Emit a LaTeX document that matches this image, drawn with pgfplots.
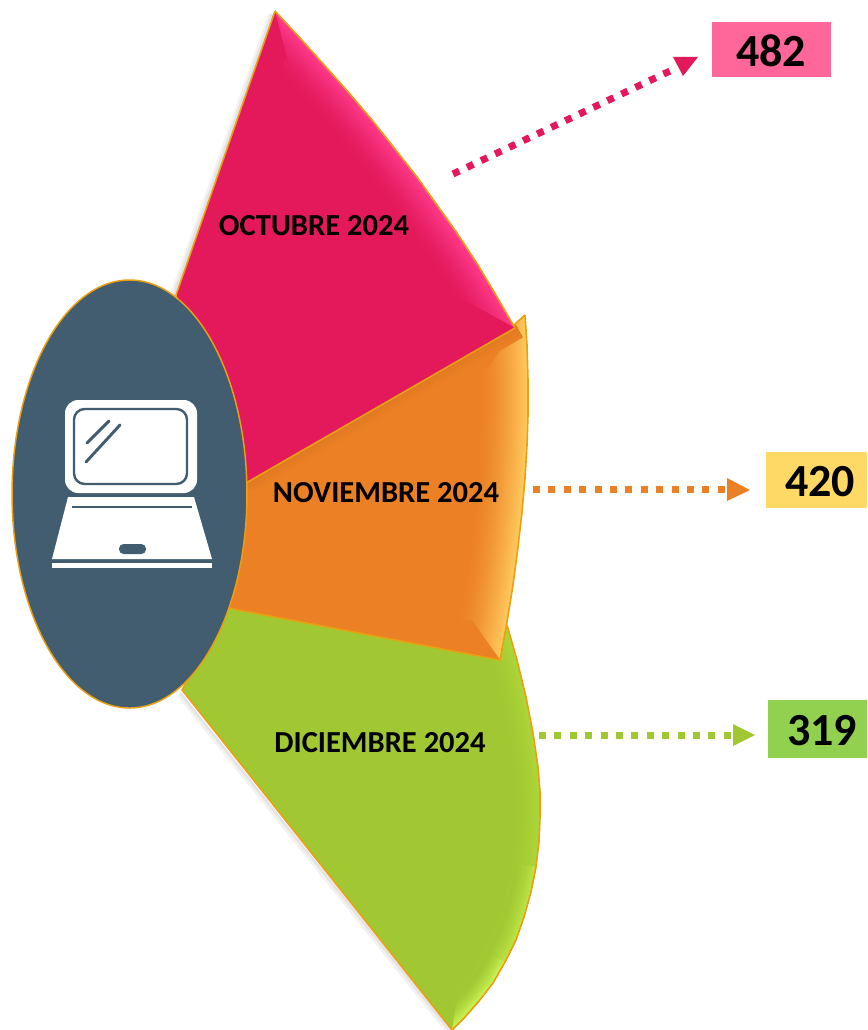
\documentclass[border=0pt]{standalone}
\usepackage{fontspec}
\setmainfont{Carlito}
\usepackage{pgfplots}
\usepackage{pgfplotstable}
\pgfplotsset{compat=1.18}
\definecolor{pinkbase}{HTML}{E3195B}
\definecolor{pinklight}{HTML}{FF3A8C}
\definecolor{orangebase}{HTML}{EC8024}
\definecolor{orangelight}{HTML}{FFC95C}
\definecolor{greenbase}{HTML}{A1C832}
\definecolor{greenlight}{HTML}{ADD638}
\definecolor{greenmid}{HTML}{BCE646}
\definecolor{greentip}{HTML}{CBF455}
\definecolor{edgeline}{HTML}{EBA012}
\definecolor{slate}{HTML}{435D70}
\definecolor{boxpink}{HTML}{FF6699}
\definecolor{boxyellow}{HTML}{FFD966}
\definecolor{boxgreen}{HTML}{92D050}

% wedge outlines, in pixels of the reference
\pgfplotstableread{
x y
275 11
300 38
325 66
350 94
372 120
395 149
417 177
437 205
457 233
478 265
497 297
515 328
246 483
200 400
176 295
275 11
}\pinkdata
\pgfplotstableread{
x y
525 315
527 345
528 380
528 415
527 445
525 478
522 512
518 547
513 585
507 622
500 660
228 608
200 550
246 483
514 325
525 315
}\orangedata
\pgfplotstableread{
x y
507 625
517 660
526 697
533 733
538 767
540 792
540 817
539 842
536 867
531 892
524 917
516 940
505 962
493 983
479 1001
465 1017
452 1030
182 690
228 608
507 625
}\greendata

\def\pinkarc{(275,11)--(300,38)--(325,66)--(350,94)--(372,120)--(395,149)--(417,177)--(437,205)--(457,233)--(478,265)--(497,297)--(515,328)}
\def\orangearc{(525,315)--(527,345)--(528,380)--(528,415)--(527,445)--(525,478)--(522,512)--(518,547)--(513,585)--(507,622)--(500,660)}
\def\greenarc{(507,625)--(517,660)--(526,697)--(533,733)--(538,767)--(540,792)--(540,817)--(539,842)--(536,867)--(531,892)--(524,917)--(516,940)--(505,962)--(493,983)--(479,1001)--(465,1017)--(452,1030)}
\def\greenlowarc{(536,867)--(531,892)--(524,917)--(516,940)--(505,962)--(493,983)--(479,1001)--(465,1017)--(452,1030)}
\def\greentiparc{(505,962)--(493,983)--(479,1001)--(465,1017)--(452,1030)}

% soft band along an outer arc: wide to narrow strokes, light colour at the rim
\newcommand{\bevel}[4]{%
  \foreach \s in {1,...,30}{%
    \pgfmathsetmacro{\p}{100*(\s/30)^1.5}%
    \pgfmathsetlengthmacro{\w}{2*#4*(1-(\s-1)/30)}%
    \draw[line width=\w, color=#3!\p!#2, line join=round] #1;
  }%
}

\begin{document}
\begin{tikzpicture}
\begin{axis}[
    scale only axis,
    width=650.25pt,
    height=772.5pt,
    xmin=0, xmax=867,
    ymin=0, ymax=1030,
    y dir=reverse,
    hide axis,
    font=\bfseries,
]
% keep the whole canvas in the picture
\path (0,0) -- (867,1030);

% soft shadows at the left of the wedges
\addplot[no marks, color=black, opacity=0.05, line width=4pt] coordinates {(271,14) (172,297)};
\addplot[no marks, color=black, opacity=0.06, line width=2pt] coordinates {(272,14) (173,297)};
\addplot[no marks, color=black, opacity=0.05, line width=4pt] coordinates {(179,694) (449,1032)};
\addplot[no marks, color=black, opacity=0.06, line width=2pt] coordinates {(180,693) (450,1031)};

% green wedge
\addplot[no marks, fill=greenbase, draw=none] table[x=x, y=y] {\greendata};
\pgfplotsextra{
  \begin{scope}
    \clip \greenarc -- (182,690) -- (228,608) -- cycle;
    \bevel{\greenarc}{greenbase}{greenlight}{20pt}
    \bevel{\greenlowarc}{greenbase}{greenmid}{15pt}
    \bevel{\greentiparc}{greenbase}{greentip}{14pt}
    \fill[greenbase] (452,1030) -- (457,992) -- (425,950) -- (405,975) -- cycle;
  \end{scope}
}
\addplot[no marks, draw=edgeline, line width=1.2pt] table[x=x, y=y] {\greendata};

% orange wedge
\addplot[no marks, fill=orangebase, draw=none] table[x=x, y=y] {\orangedata};
\pgfplotsextra{
  \begin{scope}
    \clip \orangearc -- (228,608) -- (200,550) -- (246,483) -- (514,325) -- cycle;
    \bevel{\orangearc}{orangebase}{orangelight}{36pt}
    \fill[orangebase] (500,660) -- (472,620) -- (440,620) -- (440,660) -- cycle;
    \fill[orangebase] (516,326) -- (488,368) -- (440,368) -- (440,340) -- cycle;
    \bevel{(246,483)--(516,326)}{orangebase}{orangebase!94!black}{10pt}
  \end{scope}
}
\addplot[no marks, draw=edgeline, line width=1.2pt] table[x=x, y=y] {\orangedata};

% pink wedge
\addplot[no marks, fill=pinkbase, draw=none] table[x=x, y=y] {\pinkdata};
\pgfplotsextra{
  \begin{scope}
    \clip \pinkarc -- (246,483) -- (200,400) -- (176,295) -- cycle;
    \bevel{\pinkarc}{pinkbase}{pinklight}{28pt}
    \fill[pinkbase] (515,328) -- (455,295) -- (420,330) -- (420,400) -- cycle;
    \fill[pinkbase] (275,11) -- (287,58) -- (270,80) -- (250,50) -- cycle;
  \end{scope}
}
\addplot[no marks, draw=edgeline, line width=1.2pt] table[x=x, y=y] {\pinkdata};

% laptop disc
\draw[fill=slate, draw=edgeline, line width=1.1pt] (129.5,494) ellipse [x radius=88.1pt, y radius=160.5pt];
\fill[white, rounded corners=10pt] (65,400) rectangle (197,493);
\draw[slate, line width=1.8pt, rounded corners=8pt] (74,409) rectangle (187,484);
\draw[slate, line width=2.2pt, line cap=round] (87,443) -- (109,421);
\draw[slate, line width=2.2pt, line cap=round] (86,462) -- (120,425);
\fill[white] (68,497) -- (194,497) -- (212,559) -- (52,559) -- cycle;
\draw[slate, line width=1.8pt] (72,507) -- (192,507);
\fill[slate, rounded corners=3.5pt] (119,544) rectangle (146,554);
\fill[white] (52,563) rectangle (212,568);

% dotted arrows
\addplot[no marks, color=pinkbase, line width=5.25pt, dash pattern=on 5.25pt off 6.4pt] coordinates {(453,174) (670,71)};
\addplot[no marks, fill=pinkbase, draw=none] coordinates {(673,57) (698,57) (683,76)};
\addplot[no marks, color=orangebase, line width=5.25pt, dash pattern=on 5.25pt off 6.3pt] coordinates {(533,489) (726,489)};
\addplot[no marks, fill=orangebase, draw=none] coordinates {(727,478) (750,490) (727,501)};
\addplot[no marks, color=greenbase, line width=5.25pt, dash pattern=on 5.25pt off 6.3pt] coordinates {(539,735) (732,735)};
\addplot[no marks, fill=greenbase, draw=none] coordinates {(733,724) (755,735) (733,746)};

% value boxes
\addplot[no marks, fill=boxpink, draw=none] coordinates {(712,22) (831,22) (831,77) (712,77)};
\addplot[no marks, fill=boxyellow, draw=none] coordinates {(766,452) (867,452) (867,508) (766,508)};
\addplot[no marks, fill=boxgreen, draw=none] coordinates {(768,700) (867,700) (867,758) (768,758)};

\node[font=\bfseries\fontsize{34.5}{34.5}\selectfont] at (771,51) {482};
\node[font=\bfseries\fontsize{34.5}{34.5}\selectfont] at (820,482) {420};
\node[font=\bfseries\fontsize{34.5}{34.5}\selectfont] at (822,731) {319};

\node[font=\bfseries\fontsize{22.9}{22.9}\selectfont] at (314,226) {OCTUBRE 2024};
\node[font=\bfseries\fontsize{22.9}{22.9}\selectfont] at (386,493) {NOVIEMBRE 2024};
\node[font=\bfseries\fontsize{22.9}{22.9}\selectfont] at (380,743) {DICIEMBRE 2024};
\end{axis}
\end{tikzpicture}
\end{document}
